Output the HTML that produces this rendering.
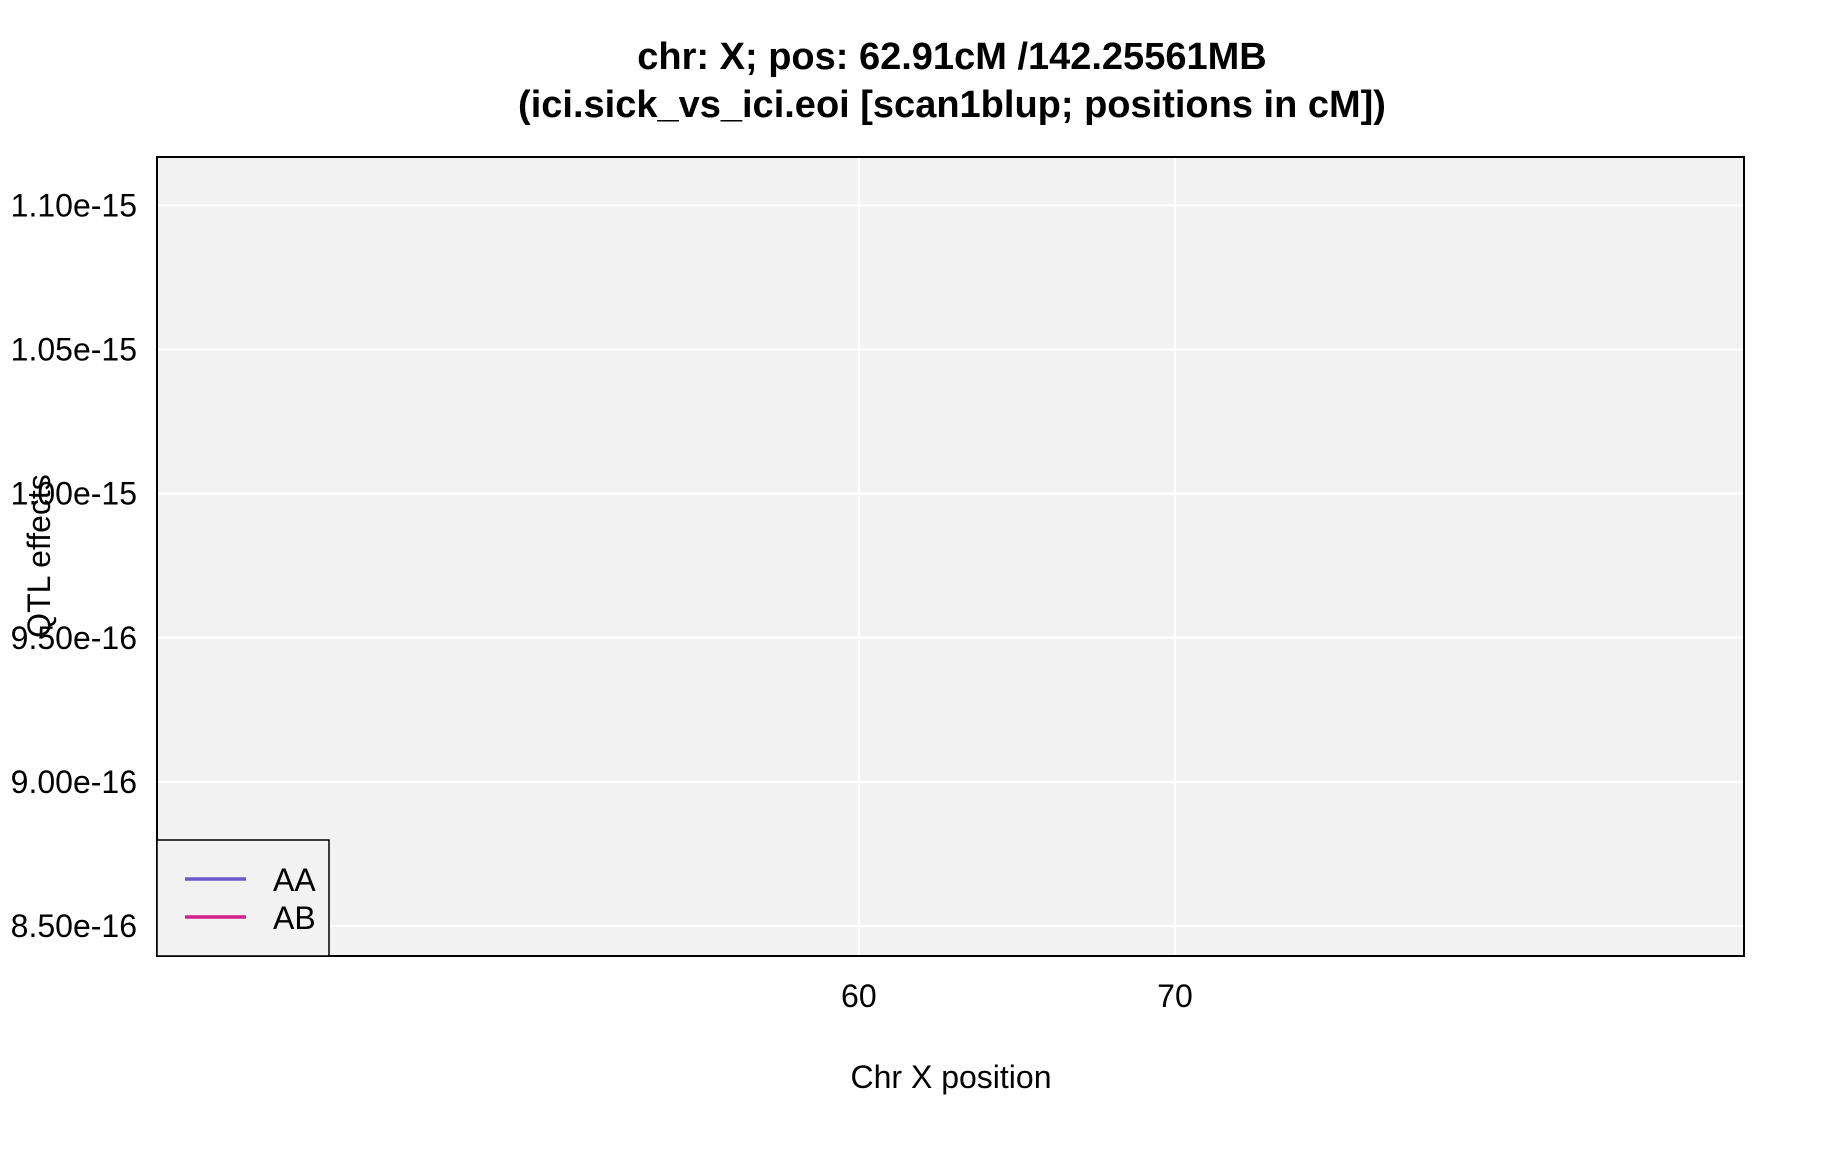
<!DOCTYPE html>
<html><head><meta charset="utf-8"><style>
html,body{margin:0;padding:0;background:#fff;}
svg{display:block;font-family:"Liberation Sans",Arial,sans-serif;}
</style></head><body>
<svg id="chart" width="1824" height="1152" viewBox="0 0 1824 1152">
<text x="952" y="69" text-anchor="middle" font-size="38" font-weight="bold">chr: X; pos: 62.91cM /142.25561MB</text>
<text x="952" y="117" text-anchor="middle" font-size="38" font-weight="bold">(ici.sick_vs_ici.eoi [scan1blup; positions in cM])</text>
<rect x="157" y="157" width="1587" height="799" fill="#f2f2f2"/>
<g id="grid"></g>
<g id="series"></g>
<g id="yticks"></g>
<g id="xticks"></g>
<rect x="157" y="157" width="1587" height="799" fill="none" stroke="#000" stroke-width="2"/>
<text x="951" y="1088" text-anchor="middle" font-size="32">Chr X position</text>
<text transform="translate(50,556) rotate(-90)" text-anchor="middle" font-size="32">QTL effects</text>
<g>
<rect x="157" y="840" width="172" height="116" fill="#f2f2f2" stroke="#000" stroke-width="1.5"/>
<g>
<line x1="185" y1="879" x2="246" y2="879" stroke="#6a5acd" stroke-width="3.5"/>
<text x="273" y="891" font-size="32">AA</text></g>
<g>
<line x1="185" y1="917" x2="246" y2="917" stroke="#d4208c" stroke-width="3.5"/>
<text x="273" y="929" font-size="32">AB</text></g>
</g>
</svg>
<script>
const yTicks = [0.85e-15, 0.90e-15, 0.95e-15, 1.00e-15, 1.05e-15, 1.10e-15];
const yTickLabels = ["8.50e-16", "9.00e-16", "9.50e-16", "1.00e-15", "1.05e-15", "1.10e-15"];
const xTicks = [60, 70];
const xTickLabels = ["60", "70"];
const seriesNames = ["AA", "AB"];
const positionsAA = [];
const valuesAA = [];
const positionsAB = [];
const valuesAB = [];
const xDomain = [37.8, 88.0];
const yDomain = [0.8396e-15, 1.1168e-15];

const L=157,R=1744,T=157,B=956;
const xs=v=>L+(v-xDomain[0])/(xDomain[1]-xDomain[0])*(R-L);
const ys=v=>B-(v-yDomain[0])/(yDomain[1]-yDomain[0])*(B-T);
const NS="http://www.w3.org/2000/svg";
const grid=document.getElementById('grid'),yt=document.getElementById('yticks'),xt=document.getElementById('xticks'),ser=document.getElementById('series');
yTicks.forEach((v,i)=>{
  const y=ys(v);
  const l=document.createElementNS(NS,'line');
  l.setAttribute('x1',L);l.setAttribute('x2',R);l.setAttribute('y1',y);l.setAttribute('y2',y);
  l.setAttribute('stroke','#fff');l.setAttribute('stroke-width','2');
  
  
  grid.appendChild(l);
  const t=document.createElementNS(NS,'text');
  t.setAttribute('x',137);t.setAttribute('y',y+11);t.setAttribute('text-anchor','end');t.setAttribute('font-size','32');
  t.textContent=yTickLabels[i];
  
  
  yt.appendChild(t);
});
xTicks.forEach((v,i)=>{
  const x=xs(v);
  const l=document.createElementNS(NS,'line');
  l.setAttribute('x1',x);l.setAttribute('x2',x);l.setAttribute('y1',T);l.setAttribute('y2',B);
  l.setAttribute('stroke','#fff');l.setAttribute('stroke-width','2');
  
  
  grid.appendChild(l);
  const t=document.createElementNS(NS,'text');
  t.setAttribute('x',x);t.setAttribute('y',1007);t.setAttribute('text-anchor','middle');t.setAttribute('font-size','32');
  t.textContent=xTickLabels[i];
  
  
  xt.appendChild(t);
});
[[positionsAA,valuesAA,'#6a5acd'],[positionsAB,valuesAB,'#d4208c']].forEach((s,k)=>{
  if(!s[0].length) return;
  const p=document.createElementNS(NS,'polyline');
  p.setAttribute('points',s[0].map((x,i)=>xs(x)+','+ys(s[1][i])).join(' '));
  p.setAttribute('fill','none');p.setAttribute('stroke',s[2]);p.setAttribute('stroke-width','3');
  
  
  ser.appendChild(p);
});
</script>
</body></html>
